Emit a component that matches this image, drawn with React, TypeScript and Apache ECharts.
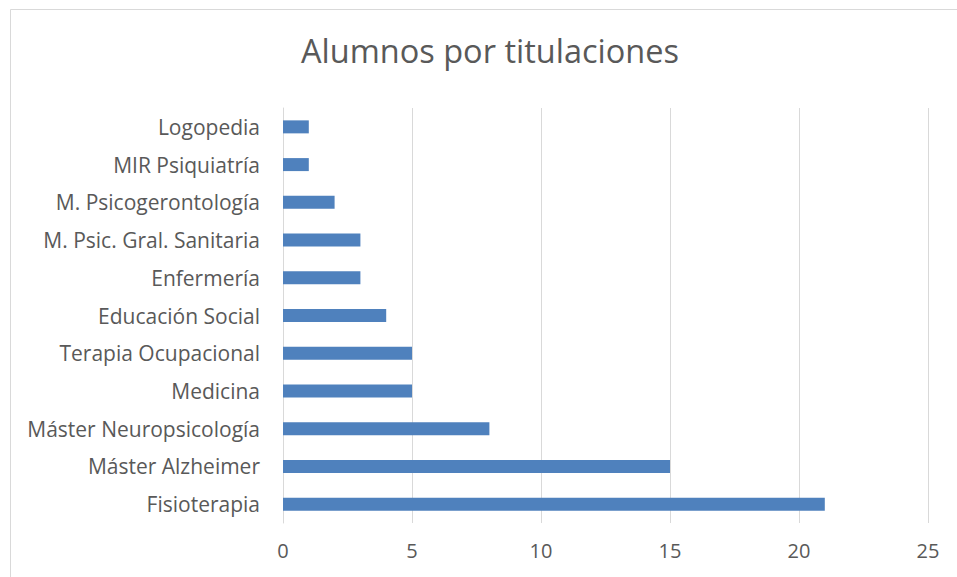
import React, { useEffect, useRef } from "react";
import * as echarts from "echarts";

const categories = [
  "Fisioterapia",
  "Máster Alzheimer",
  "Máster Neuropsicología",
  "Medicina",
  "Terapia Ocupacional",
  "Educación Social",
  "Enfermería",
  "M. Psic. Gral. Sanitaria",
  "M. Psicogerontología",
  "MIR Psiquiatría",
  "Logopedia",
];
const values = [21, 15, 8, 5, 5, 4, 3, 3, 2, 1, 1];
const title = "Alumnos por titulaciones";

const FONT = "Open Sans, Noto Sans, sans-serif";

export default function App() {
  const ref = useRef<HTMLDivElement>(null);
  useEffect(() => {
    if (!ref.current) return;
    const chart = echarts.init(ref.current, undefined, { renderer: "svg" });
    chart.setOption({
      animation: false,
      backgroundColor: "#ffffff",
      title: {
        text: title,
        left: 485,
        textAlign: "center",
        top: 29,
        textStyle: { fontFamily: FONT, fontSize: 32.5, fontWeight: "normal", color: "#595959" },
      },
      graphic: [
        {
          type: "rect",
          shape: { x: 10.5, y: 9.5, width: 980, height: 600 },
          style: { fill: "none", stroke: "#d9d9d9", lineWidth: 1 },
          silent: true,
        },
      ],
      grid: { left: 283, right: 29, top: 108, bottom: 54, containLabel: false },
      xAxis: {
        type: "value",
        min: 0,
        max: 25,
        interval: 5,
        axisLine: { show: false },
        axisTick: { show: false },
        splitLine: { show: true, lineStyle: { color: "#d9d9d9", width: 1 } },
        axisLabel: { fontFamily: FONT, fontSize: 20, color: "#595959", margin: 17 },
      },
      yAxis: {
        type: "category",
        data: categories,
        axisLine: { show: true, lineStyle: { color: "#d9d9d9", width: 1 } },
        axisTick: { show: false },
        axisLabel: { fontFamily: FONT, fontSize: 21, color: "#595959", margin: 23 },
      },
      series: [
        {
          type: "bar",
          data: values,
          barWidth: 13,
          itemStyle: { color: "#4f81bd" },
        },
      ],
    });
    return () => chart.dispose();
  }, []);
  return (
    <div
      ref={ref}
      style={{ position: "fixed", left: 0, top: 0, width: 957, height: 577 }}
    />
  );
}
